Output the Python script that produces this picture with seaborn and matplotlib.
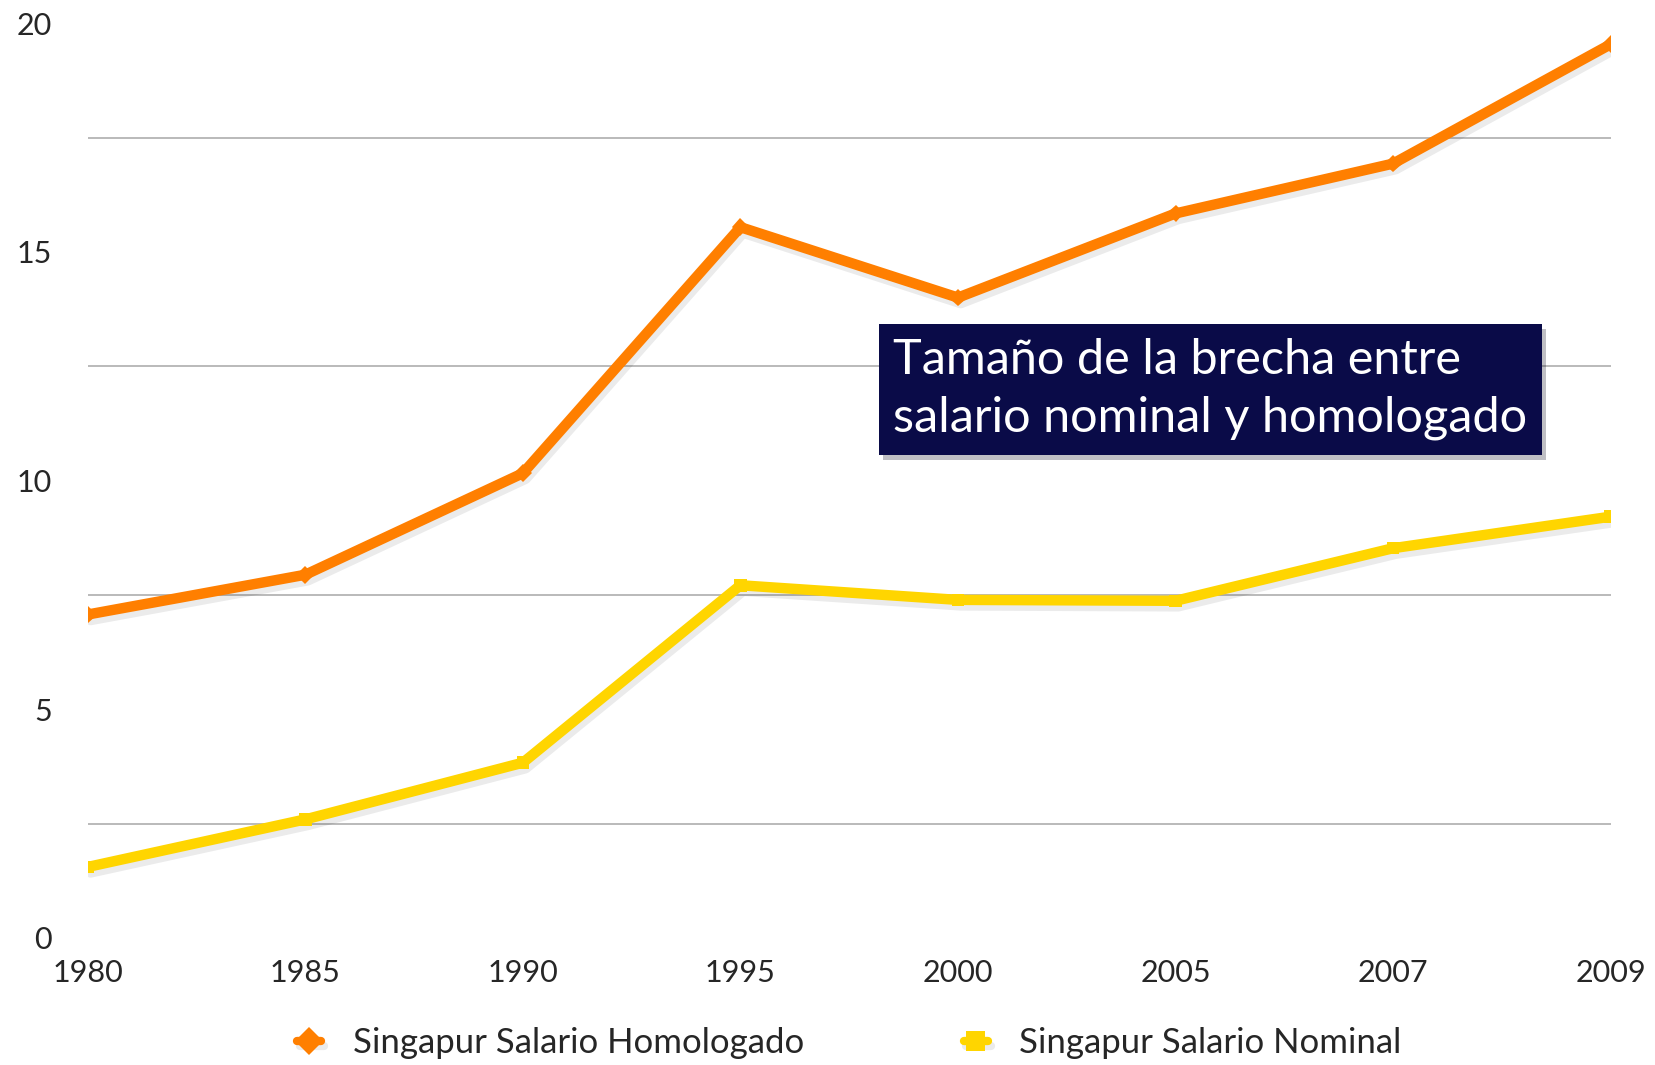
import matplotlib
matplotlib.use("Agg")
import matplotlib.pyplot as plt
import matplotlib.patheffects as pe
import seaborn as sns
import pandas as pd

years = ["1980", "1985", "1990", "1995", "2000", "2005", "2007", "2009"]
homologado = [7.07, 7.94, 10.16, 15.54, 14.0, 15.84, 16.93, 19.54]
nominal = [1.55, 2.59, 3.83, 7.71, 7.39, 7.37, 8.52, 9.21]
series_names = ["Singapur Salario Homologado", "Singapur Salario Nominal"]
colors = ["#FF7F00", "#FFD500"]
y_ticks = [0, 5, 10, 15, 20]
grid_levels = [2.5, 7.5, 12.5, 17.5]
note = "Tamaño de la brecha entre\nsalario nominal y homologado"

df = pd.DataFrame({
    "Año": years * 2,
    "Valor": homologado + nominal,
    "Serie": [series_names[0]] * len(years) + [series_names[1]] * len(years),
})

sns.set_style("white")
plt.rcParams["font.family"] = ["Lato", "DejaVu Sans"]

fig = plt.figure(figsize=(16.56, 10.65), dpi=100)
ax = fig.add_axes([0.053, 0.1194, 0.9196, 0.8588])

sns.lineplot(data=df, x="Año", y="Valor", hue="Serie", style="Serie",
             markers={series_names[0]: "D", series_names[1]: "s"}, dashes=False,
             palette=dict(zip(series_names, colors)), linewidth=7.5,
             markersize=9, markeredgewidth=0, ax=ax, legend=True, sort=False)

shadow = [pe.SimpleLineShadow(offset=(2, -4), alpha=0.08, shadow_color="black"), pe.Normal()]
for line in ax.get_lines():
    line.set_path_effects(shadow)
    line.set_solid_capstyle("round")

ax.set_xlim(0, len(years) - 1)
ax.set_ylim(0, 20)
ax.set_yticks(y_ticks)
ax.set_yticks(grid_levels, minor=True)
ax.grid(False)
ax.grid(True, which="minor", axis="y", color="#b4b4b4", linewidth=1.3)
ax.tick_params(axis="y", which="both", length=0, pad=26, labelsize=22)
ax.tick_params(axis="x", length=0, pad=15, labelsize=22)
for lab in ax.get_yticklabels():
    lab.set_horizontalalignment("right")
ax.set_xlabel("")
ax.set_ylabel("")
for s in ax.spines.values():
    s.set_visible(False)

handles, labels = ax.get_legend_handles_labels()
leg = ax.legend(handles, labels, loc="center", bbox_to_anchor=(0.5, -0.115),
                ncol=2, frameon=False, handlelength=0.7, handletextpad=0.9,
                columnspacing=4.6, prop={"size": 25})
for h in leg.legend_handles:
    h.set_linewidth(6)
    h.set_markersize(14)

ax.text(0.529, 0.60, note, transform=ax.transAxes, color="white", fontsize=35,
        ha="left", va="center", linespacing=1.38,
        bbox=dict(boxstyle="square,pad=0.3", facecolor="#0a0b48",
                  edgecolor="none",
                  path_effects=[pe.SimplePatchShadow(offset=(3, -4), alpha=0.25), pe.Normal()]),
        zorder=5)

fig.savefig("out.png", dpi=100)
